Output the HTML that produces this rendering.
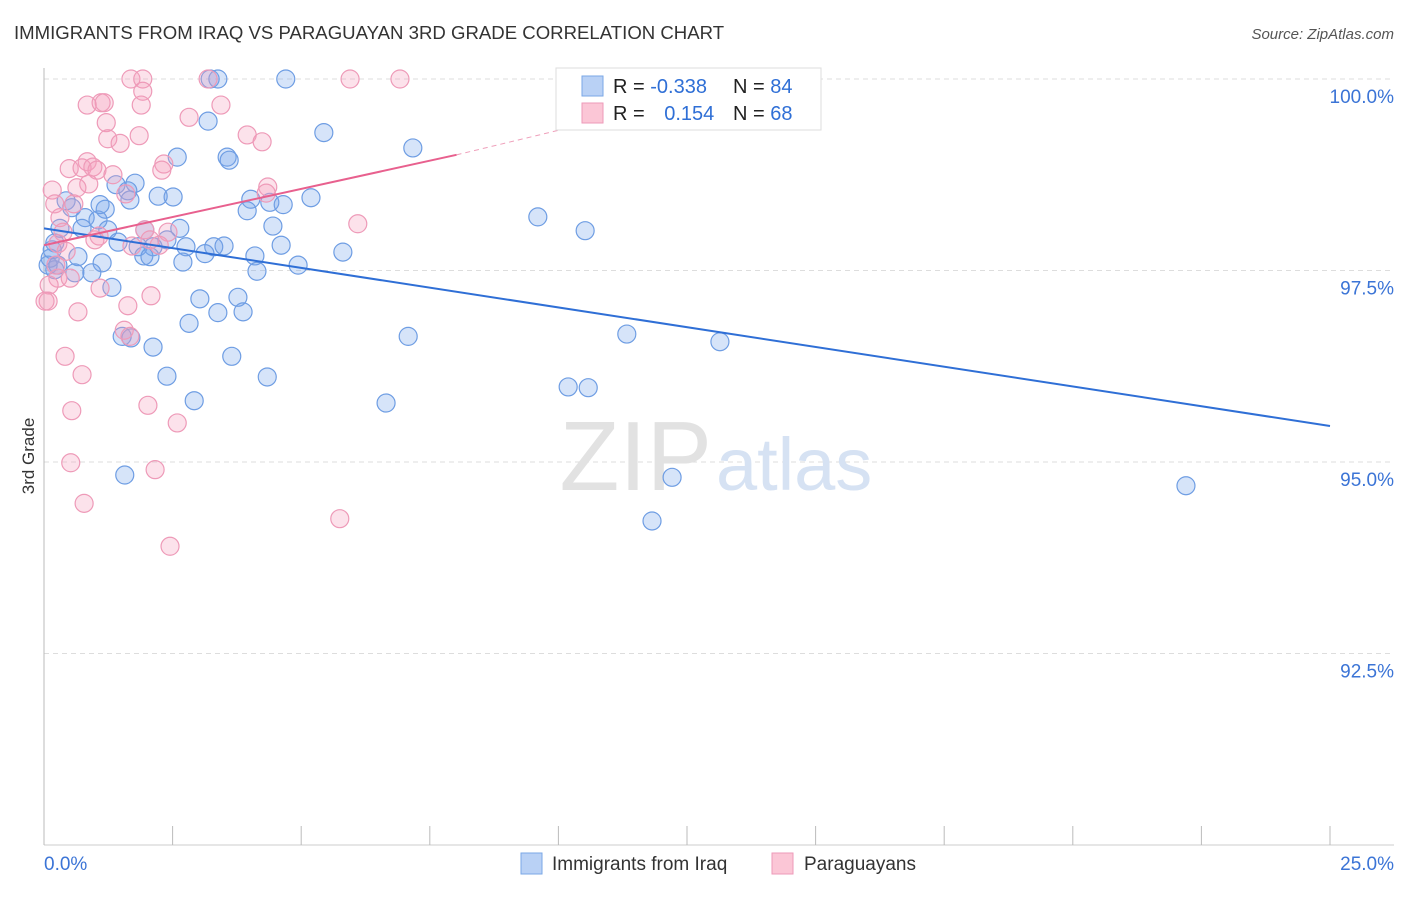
<!DOCTYPE html>
<html><head><meta charset="utf-8"><style>
body{margin:0;background:#fff;font-family:"Liberation Sans",sans-serif;}
svg text{font-family:"Liberation Sans",sans-serif;}
</style></head><body>
<svg id="chart" width="1406" height="892">
<text x="14" y="39" font-size="18.6" fill="#333">IMMIGRANTS FROM IRAQ VS PARAGUAYAN 3RD GRADE CORRELATION CHART</text>
<text x="1394" y="39" font-size="15" fill="#555" font-style="italic" text-anchor="end">Source: ZipAtlas.com</text>
<text x="34" y="456" font-size="17" fill="#333" transform="rotate(-90 34 456)" text-anchor="middle">3rd Grade</text>
<g id="grid"></g>
<text x="712" y="490" font-size="98" fill="#e2e2e2" font-family="Liberation Serif" text-anchor="end">ZIP</text>
<text x="716" y="490" font-size="74" fill="#d6e2f3">atlas</text>
<g id="pts"></g>
<g id="lines"></g>
<g>
<rect x="556" y="68" width="265" height="62" fill="#fff" stroke="#ddd"/>
<rect x="582" y="76" width="21" height="20" fill="#b9d1f5" stroke="#7aa7e6"/>
<rect x="582" y="103" width="21" height="20" fill="#fbc6d6" stroke="#ee9ab8"/>
<text x="613" y="93" font-size="20" fill="#222">R = <tspan fill="#2f6fd6">-0.338</tspan></text>
<text x="733" y="93" font-size="20" fill="#222">N = <tspan fill="#2f6fd6">84</tspan></text>
<text x="613" y="120" font-size="20" fill="#222">R = <tspan fill="#2f6fd6" dx="14">0.154</tspan></text>
<text x="733" y="120" font-size="20" fill="#222">N = <tspan fill="#2f6fd6">68</tspan></text>
</g>
<g>
<rect x="521" y="853" width="21" height="21" fill="#b9d1f5" stroke="#7aa7e6"/>
<text x="552" y="870" font-size="19" fill="#333">Immigrants from Iraq</text>
<rect x="772" y="853" width="21" height="21" fill="#fbc6d6" stroke="#ee9ab8"/>
<text x="804" y="870" font-size="19" fill="#333">Paraguayans</text>
</g>
<text x="44" y="870" font-size="19" fill="#3b74d6">0.0%</text>
<text x="1394" y="870" font-size="19" fill="#3b74d6" text-anchor="end">25.0%</text>
</svg>
<script>
const yTicks=[100,97.5,95,92.5];
const yTickLabels=["100.0%","97.5%","95.0%","92.5%"];
const xTicks=[0,2.5,5,7.5,10,12.5,15,17.5,20,22.5,25];
const blueX=[3.23,3.38,4.70,14.07,3.19,5.44,7.17,2.59,3.56,3.60,1.77,1.40,1.63,2.22,2.51,4.02,4.39,4.65,5.19,0.43,0.54,1.19,3.95,0.80,1.05,9.60,10.52,0.31,0.74,1.24,1.96,2.64,4.45,0.21,1.44,1.83,2.12,2.39,2.76,3.30,3.50,4.61,5.81,0.66,1.13,1.94,2.06,2.70,3.13,4.10,4.94,0.08,0.21,0.60,0.93,4.14,1.32,3.03,3.77,3.38,3.87,2.82,1.52,1.69,7.08,11.33,13.14,2.12,3.65,2.39,4.34,10.19,10.58,2.92,6.65,1.57,12.21,22.20,11.82,0.12,0.27,0.16,1.09,1.67];
const blueY=[100,100,100,100,99.45,99.30,99.10,98.98,98.98,98.94,98.64,98.62,98.54,98.47,98.46,98.43,98.39,98.36,98.45,98.41,98.32,98.30,98.28,98.19,98.16,98.20,98.02,98.05,98.05,98.03,98.03,98.05,98.08,97.86,97.87,97.81,97.81,97.90,97.81,97.81,97.82,97.83,97.74,97.68,97.60,97.69,97.68,97.61,97.72,97.69,97.57,97.57,97.51,97.47,97.47,97.49,97.28,97.13,97.15,96.95,96.96,96.81,96.64,96.62,96.64,96.67,96.57,96.50,96.38,96.12,96.11,95.98,95.97,95.80,95.77,94.83,94.80,94.69,94.23,97.66,97.57,97.77,98.36,98.42];
const pinkX=[1.69,1.92,3.19,5.95,6.92,1.92,0.84,1.11,1.17,1.89,3.44,1.21,2.82,1.24,1.85,3.95,4.24,1.48,0.84,0.49,0.74,0.95,1.03,1.34,2.33,2.29,0.87,0.64,0.16,4.35,1.59,4.32,0.21,0.58,0.31,6.10,0.37,1.96,2.41,1.07,0.99,0.27,1.71,2.24,2.06,0.43,0.23,0.27,0.51,0.10,1.09,2.08,0.08,1.63,0.66,1.56,0.41,0.74,2.02,0.54,2.59,0.52,2.16,0.78,5.75,2.45,1.67,0.02];
const pinkY=[100,100,100,100,100,99.84,99.66,99.69,99.69,99.66,99.66,99.43,99.50,99.22,99.26,99.27,99.18,99.16,98.92,98.83,98.84,98.85,98.81,98.75,98.89,98.81,98.63,98.58,98.55,98.59,98.50,98.51,98.37,98.37,98.19,98.11,98.00,98.03,98.00,97.95,97.90,97.85,97.82,97.83,97.90,97.75,97.57,97.40,97.40,97.31,97.27,97.17,97.10,97.04,96.96,96.72,96.38,96.14,95.74,95.67,95.51,94.99,94.90,94.46,94.26,93.90,96.64,97.10];
const blueTrend=[[0,98.05],[25,95.47]];
const pinkTrend=[[0,97.83],[8.02,99.01]];
const pinkDash=[[8.02,99.01],[10.0,99.33]];
const xs=v=>44+v*(1286/25);
const ys=v=>79+(100-v)*76.6;
const NS="http://www.w3.org/2000/svg";
function mk(tag,attrs,parent){const e=document.createElementNS(NS,tag);for(const k in attrs)e.setAttribute(k,attrs[k]);parent.appendChild(e);return e;}
const grid=document.getElementById('grid');
yTicks.forEach((t,i)=>{
 const l=mk('line',{x1:44,x2:1394,y1:ys(t),y2:ys(t),stroke:'#ddd','stroke-dasharray':'5,4'},grid);
 
 
 const tx=mk('text',{x:1394,y:ys(t)+24,'font-size':19,fill:'#3b74d6','text-anchor':'end'},grid);
 tx.textContent=yTickLabels[i];
 
 
});
const ax=mk('line',{x1:44,x2:44,y1:68,y2:845,stroke:'#bbb'},grid);


const bx=mk('line',{x1:44,x2:1394,y1:845,y2:845,stroke:'#ccc'},grid);


xTicks.forEach(t=>{
 const l=mk('line',{x1:xs(t),x2:xs(t),y1:826,y2:845,stroke:'#bbb'},grid);
 
 
});
const pts=document.getElementById('pts');
blueX.forEach((x,i)=>{
 const c=mk('circle',{cx:xs(x),cy:ys(blueY[i]),r:9,fill:'rgba(120,165,235,0.3)',stroke:'#6e9de3','stroke-width':1.2},pts);
 
 
});
pinkX.forEach((x,i)=>{
 const c=mk('circle',{cx:xs(x),cy:ys(pinkY[i]),r:9,fill:'rgba(245,160,190,0.3)',stroke:'#ee9ab8','stroke-width':1.2},pts);
 
 
});
const lines=document.getElementById('lines');
const b=mk('line',{x1:xs(blueTrend[0][0]),y1:ys(blueTrend[0][1]),x2:xs(blueTrend[1][0]),y2:ys(blueTrend[1][1]),stroke:'#2f6fd6','stroke-width':2},lines);


const p=mk('line',{x1:xs(pinkTrend[0][0]),y1:ys(pinkTrend[0][1]),x2:xs(pinkTrend[1][0]),y2:ys(pinkTrend[1][1]),stroke:'#e8608e','stroke-width':2},lines);


const pd=mk('line',{x1:xs(pinkDash[0][0]),y1:ys(pinkDash[0][1]),x2:xs(pinkDash[1][0]),y2:ys(pinkDash[1][1]),stroke:'#efa0bb','stroke-width':1,'stroke-dasharray':'5,4'},lines);


</script>
</body></html>
